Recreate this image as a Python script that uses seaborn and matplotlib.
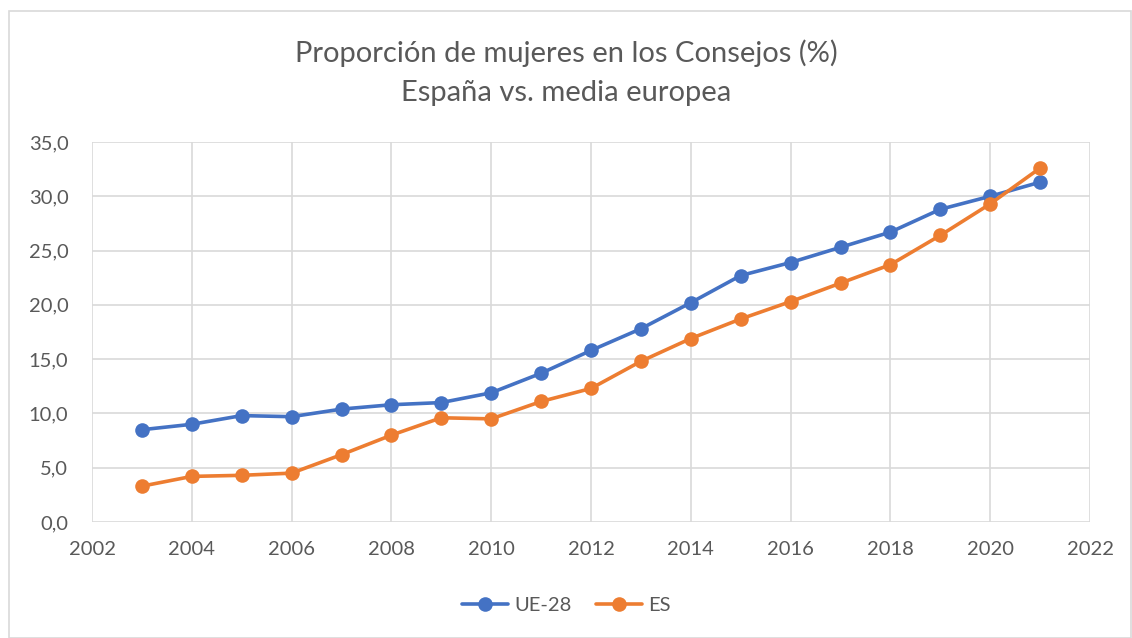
import matplotlib
matplotlib.use("Agg")
import matplotlib.pyplot as plt
import seaborn as sns
import pandas as pd
from matplotlib.patches import Rectangle
from matplotlib.ticker import FuncFormatter, MultipleLocator

years = list(range(2003, 2022))
ue28 = [8.5, 9.0, 9.8, 9.7, 10.4, 10.8, 11.0, 11.9, 13.7, 15.8, 17.8, 20.2,
        22.7, 23.9, 25.3, 26.7, 28.8, 30.0, 31.3]
es = [3.3, 4.2, 4.3, 4.5, 6.2, 8.0, 9.6, 9.5, 11.1, 12.3, 14.8, 16.9,
      18.7, 20.3, 22.0, 23.7, 26.4, 29.3, 32.6]
series_names = ["UE-28", "ES"]
title_lines = ["Proporción de mujeres en los Consejos (%)", "España vs. media europea"]

df = pd.concat([
    pd.DataFrame({"year": years, "value": ue28, "serie": series_names[0]}),
    pd.DataFrame({"year": years, "value": es, "serie": series_names[1]}),
])

sns.set_theme(style="white")
plt.rcParams['font.family'] = ['Lato', 'DejaVu Sans']
text_color = "#595959"
grid_color = "#d9d9d9"

fig = plt.figure(figsize=(11.32, 6.38), dpi=100)
fig.patches.append(Rectangle((9/1132, 0), 1 - 9/1132 - 0.001, 1 - 11/638,
                             transform=fig.transFigure, fill=False,
                             edgecolor=grid_color, linewidth=1.2))
ax = fig.add_axes([92/1132, 1 - 522/638, (1090 - 92)/1132, (522 - 142)/638])

palette = {"UE-28": "#4472C4", "ES": "#ED7D31"}
sns.lineplot(data=df, x="year", y="value", hue="serie", palette=palette,
             marker="o", markersize=10.5, markeredgewidth=0, linewidth=2.6,
             ax=ax, legend=True)

ax.set_xlim(2002, 2022)
ax.set_ylim(0, 35)
ax.xaxis.set_major_locator(MultipleLocator(2))
ax.yaxis.set_major_locator(MultipleLocator(5))
ax.yaxis.set_major_formatter(FuncFormatter(lambda v, p: f"{v:.1f}".replace(".", ",")))
ax.grid(True, color=grid_color, linewidth=1.2)
for s in ax.spines.values():
    s.set_visible(False)
ax.set_xlabel("")
ax.set_ylabel("")
ax.tick_params(axis="both", colors=text_color, labelsize=14.5, length=0)
ax.tick_params(axis="y", pad=17)
ax.tick_params(axis="x", pad=14)

fig.text(0.5, 1 - 53/638, title_lines[0], ha="center", va="center",
         fontsize=21, color=text_color)
fig.text(0.5, 1 - 93/638, title_lines[1], ha="center", va="center",
         fontsize=21, color=text_color)

handles, labels = ax.get_legend_handles_labels()
ax.legend(handles, labels, loc="center", bbox_to_anchor=(0.5, 1 - 605/638),
          bbox_transform=fig.transFigure, ncol=2, frameon=False,
          fontsize=14.5, labelcolor=text_color, handlelength=2.3,
          columnspacing=1.2, handletextpad=0.3)

fig.savefig("out.png", dpi=100, facecolor="white")
